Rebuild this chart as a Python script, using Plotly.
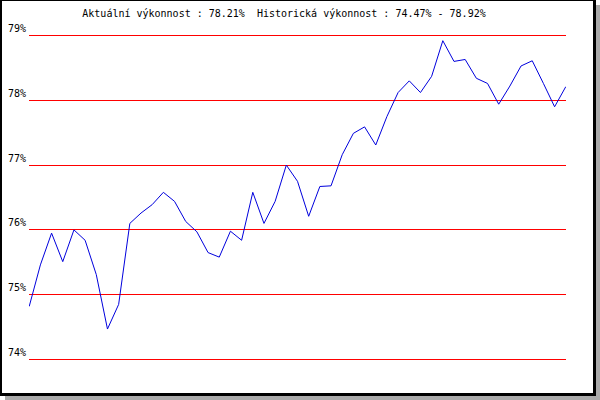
import plotly.graph_objects as go

# performance samples (percent)
performance = [
    74.82, 75.46, 75.95, 75.51, 76.00, 75.84, 75.31, 74.47, 74.85, 76.10,
    76.26, 76.39, 76.58, 76.44, 76.13, 75.97, 75.65, 75.58, 75.98, 75.84,
    76.58, 76.10, 76.44, 77.00, 76.75, 76.21, 76.67, 76.68, 77.16, 77.49,
    77.59, 77.31, 77.75, 78.12, 78.30, 78.12, 78.37, 78.92, 78.60, 78.63,
    78.34, 78.26, 77.94, 78.22, 78.53, 78.61, 78.26, 77.90, 78.21,
]
sample_index = list(range(len(performance)))
y_ticks = [74, 75, 76, 77, 78, 79]
y_tick_labels = ["74%", "75%", "76%", "77%", "78%", "79%"]
title_text = "Aktuální výkonnost : 78.21%\u00a0\u00a0Historická výkonnost : 74.47% - 78.92%"

W, H = 600, 400
# plot area: x 29..566 ; 79% at y=35.5, 74% at y=359.5
L, R, T, B = 29, 34, 9, 14
pw, ph = W - L - R, H - T - B


def px(x):
    return (x - L) / pw


def py(y):
    return (H - B - y) / ph


def box(x0, y0, x1, y1, color):
    return dict(type="rect", xref="paper", yref="paper",
                x0=px(x0), x1=px(x1), y0=py(y1), y1=py(y0),
                fillcolor=color, line=dict(width=0), layer="above")


font = dict(family="DejaVu Sans Mono, monospace", size=10, color="black")

fig = go.Figure()
fig.add_trace(go.Scatter(
    x=sample_index, y=performance, mode="lines",
    line=dict(color="#0000dd", width=1), hoverinfo="skip",
))

shapes = [
    # shadow
    box(596, 5, 600, 400, "#aaaaaa"),
    box(5, 396, 600, 400, "#aaaaaa"),
    # frame
    box(0, 0, 596, 1, "black"),
    box(0, 393, 596, 396, "black"),
    box(0, 0, 2, 396, "black"),
    box(593, 0, 596, 396, "black"),
]

fig.update_layout(
    width=W, height=H,
    margin=dict(l=L, r=R, t=T, b=B, pad=0, autoexpand=False),
    paper_bgcolor="white", plot_bgcolor="rgba(0,0,0,0)",
    showlegend=False,
    shapes=shapes,
    title=dict(text=title_text, x=284 / W, xanchor="center", xref="container",
               y=1 - 13 / H, yanchor="middle", yref="container", font=font, automargin=False),
    xaxis=dict(range=[-0.02, len(performance) - 1 + 0.02], visible=False, showgrid=False,
               zeroline=False, automargin=False),
    yaxis=dict(range=[73.591, 79.409], tickmode="array", tickvals=y_ticks, ticktext=y_tick_labels,
               showgrid=True, gridcolor="#ff0000", gridwidth=1, zeroline=False,
               showline=False, ticks="", tickfont=font, automargin=False,
               ticklabelposition="outside top", ticklabelstandoff=2),
)

fig.write_html("out.html", config={"displayModeBar": False},
               post_script="document.body.style.margin='0';document.body.style.overflow='hidden';")
